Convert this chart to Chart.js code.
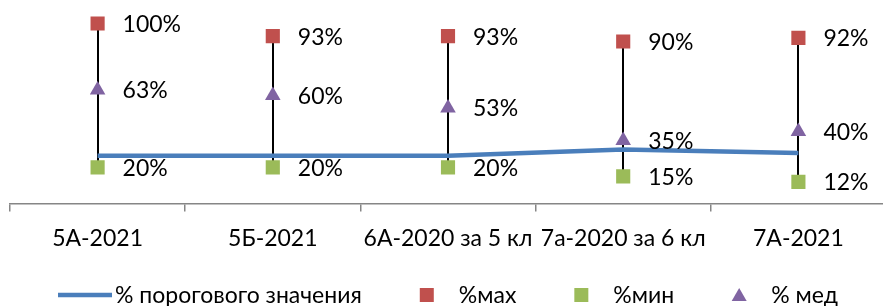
<!DOCTYPE html>
<html>
<head>
<meta charset="utf-8">
<script src="https://cdn.jsdelivr.net/npm/chart.js@4"></script>
<style>
  html, body { margin: 0; padding: 0; background: #fff; overflow: hidden; }
  #wrap { width: 896px; height: 306px; }
</style>
</head>
<body>
<div id="wrap"><canvas id="myChart"></canvas></div>
<script>
var categories = ['5А-2021', '5Б-2021', '6А-2020 за 5 кл', '7а-2020 за 6 кл', '7А-2021']
var thresholdVals = [26.5, 26.5, 26.5, 30, 28]
var maxVals = [100, 93, 93, 90, 92]
var minVals = [20, 20, 20, 15, 12]
var medVals = [63, 60, 53, 35, 40]
var seriesNames = ['% порогового значения', '%мах', '%мин', '% мед']

var FONT = '23px Lato'

// black high-low lines between max and min
var hiLoLines = {
  id: 'hiLoLines',
  beforeDatasetsDraw: function(chart) {
    var ctx = chart.ctx
    var x = chart.scales.x, y = chart.scales.y
    ctx.save()
    ctx.strokeStyle = '#000'
    ctx.lineWidth = 2
    for (var i = 0; i < categories.length; i++) {
      var px = Math.round(x.getPixelForValue(i))
      ctx.beginPath()
      ctx.moveTo(px, y.getPixelForValue(maxVals[i]))
      ctx.lineTo(px, y.getPixelForValue(minVals[i]))
      ctx.stroke()
    }
    ctx.restore()
  }
}

// value labels to the right of markers
var valueLabels = {
  id: 'valueLabels',
  afterDatasetsDraw: function(chart) {
    var ctx = chart.ctx
    ctx.save()
    ctx.font = FONT
    ctx.fillStyle = '#000'
    ctx.textBaseline = 'middle'
    ctx.textAlign = 'left'
    chart.data.datasets.forEach(function(ds, di) {
      if (!ds.showLabels) return
      chart.getDatasetMeta(di).data.forEach(function(pt, i) {
        ctx.fillText(ds.data[i] + '%', pt.x + 25, pt.y + 1)
      })
    })
    ctx.restore()
  }
}

// legend laid out like the office one
var bottomLegend = {
  id: 'bottomLegend',
  afterDraw: function(chart) {
    var ctx = chart.ctx
    ctx.save()
    ctx.font = FONT
    var items = [
      { text: seriesNames[0], type: 'line', color: '#4a7ebb', w: 54, gap: 3 },
      { text: seriesNames[1], type: 'rect', color: '#c0504d', w: 14, gap: 25 },
      { text: seriesNames[2], type: 'rect', color: '#9bbb59', w: 14, gap: 25 },
      { text: seriesNames[3], type: 'triangle', color: '#8064a2', w: 14, gap: 25 }
    ]
    var spacing = 58
    var total = 0
    items.forEach(function(it, i) {
      it.tw = ctx.measureText(it.text).width
      total += it.w + it.gap + it.tw + (i ? spacing : 0)
    })
    var cx = (chart.chartArea.left + chart.chartArea.right) / 2
    var x = cx - total / 2
    var y = 295
    ctx.textBaseline = 'middle'
    items.forEach(function(it) {
      ctx.fillStyle = it.color
      ctx.strokeStyle = it.color
      if (it.type === 'line') {
        ctx.lineWidth = 4.5
        ctx.beginPath()
        ctx.moveTo(x, y)
        ctx.lineTo(x + it.w, y)
        ctx.stroke()
      } else if (it.type === 'rect') {
        ctx.fillRect(x, y - 7, 14, 14)
      } else {
        ctx.beginPath()
        ctx.moveTo(x + 7, y - 7)
        ctx.lineTo(x + 14.5, y + 6)
        ctx.lineTo(x - 0.5, y + 6)
        ctx.closePath()
        ctx.fill()
      }
      ctx.fillStyle = '#000'
      ctx.fillText(it.text, x + it.w + it.gap, y + 1)
      x += it.w + it.gap + it.tw + spacing
    })
    ctx.restore()
  }
}

var ctx = document.getElementById('myChart').getContext('2d')
var chart = new Chart(ctx, {
  type: 'line',
  data: {
    labels: categories,
    datasets: [
      {
        label: seriesNames[3], data: medVals, showLine: false, showLabels: true,
        pointStyle: 'triangle', pointRadius: 9, pointBackgroundColor: '#8064a2',
        pointBorderColor: '#8064a2', pointBorderWidth: 0, order: 0
      },
      {
        label: seriesNames[1], data: maxVals, showLine: false, showLabels: true,
        pointStyle: 'rect', pointRadius: 10, pointBackgroundColor: '#c0504d',
        pointBorderColor: '#c0504d', pointBorderWidth: 0, order: 1
      },
      {
        label: seriesNames[2], data: minVals, showLine: false, showLabels: true,
        pointStyle: 'rect', pointRadius: 10, pointBackgroundColor: '#9bbb59',
        pointBorderColor: '#9bbb59', pointBorderWidth: 0, order: 2
      },
      {
        label: seriesNames[0], data: thresholdVals, borderColor: '#4a7ebb',
        borderWidth: 4.5, pointRadius: 0, tension: 0, order: 5
      }
    ]
  },
  options: {
    responsive: true,
    maintainAspectRatio: false,
    animation: false,
    layout: { padding: { left: 9, right: 9, top: 4, bottom: 41 } },
    plugins: { legend: { display: false }, tooltip: { enabled: false } },
    scales: {
      x: {
        offset: true,
        grid: { offset: true, drawOnChartArea: false, drawTicks: true, tickLength: 8, color: '#868686', lineWidth: 1.5 },
        border: { color: '#868686', width: 1.5 },
        ticks: { font: { family: 'Lato', size: 23 }, color: '#000', padding: 13, autoSkip: false, maxRotation: 0 }
      },
      y: { display: false, min: 0, max: 107.5 }
    }
  },
  plugins: [hiLoLines, valueLabels, bottomLegend]
})
</script>
</body>
</html>
